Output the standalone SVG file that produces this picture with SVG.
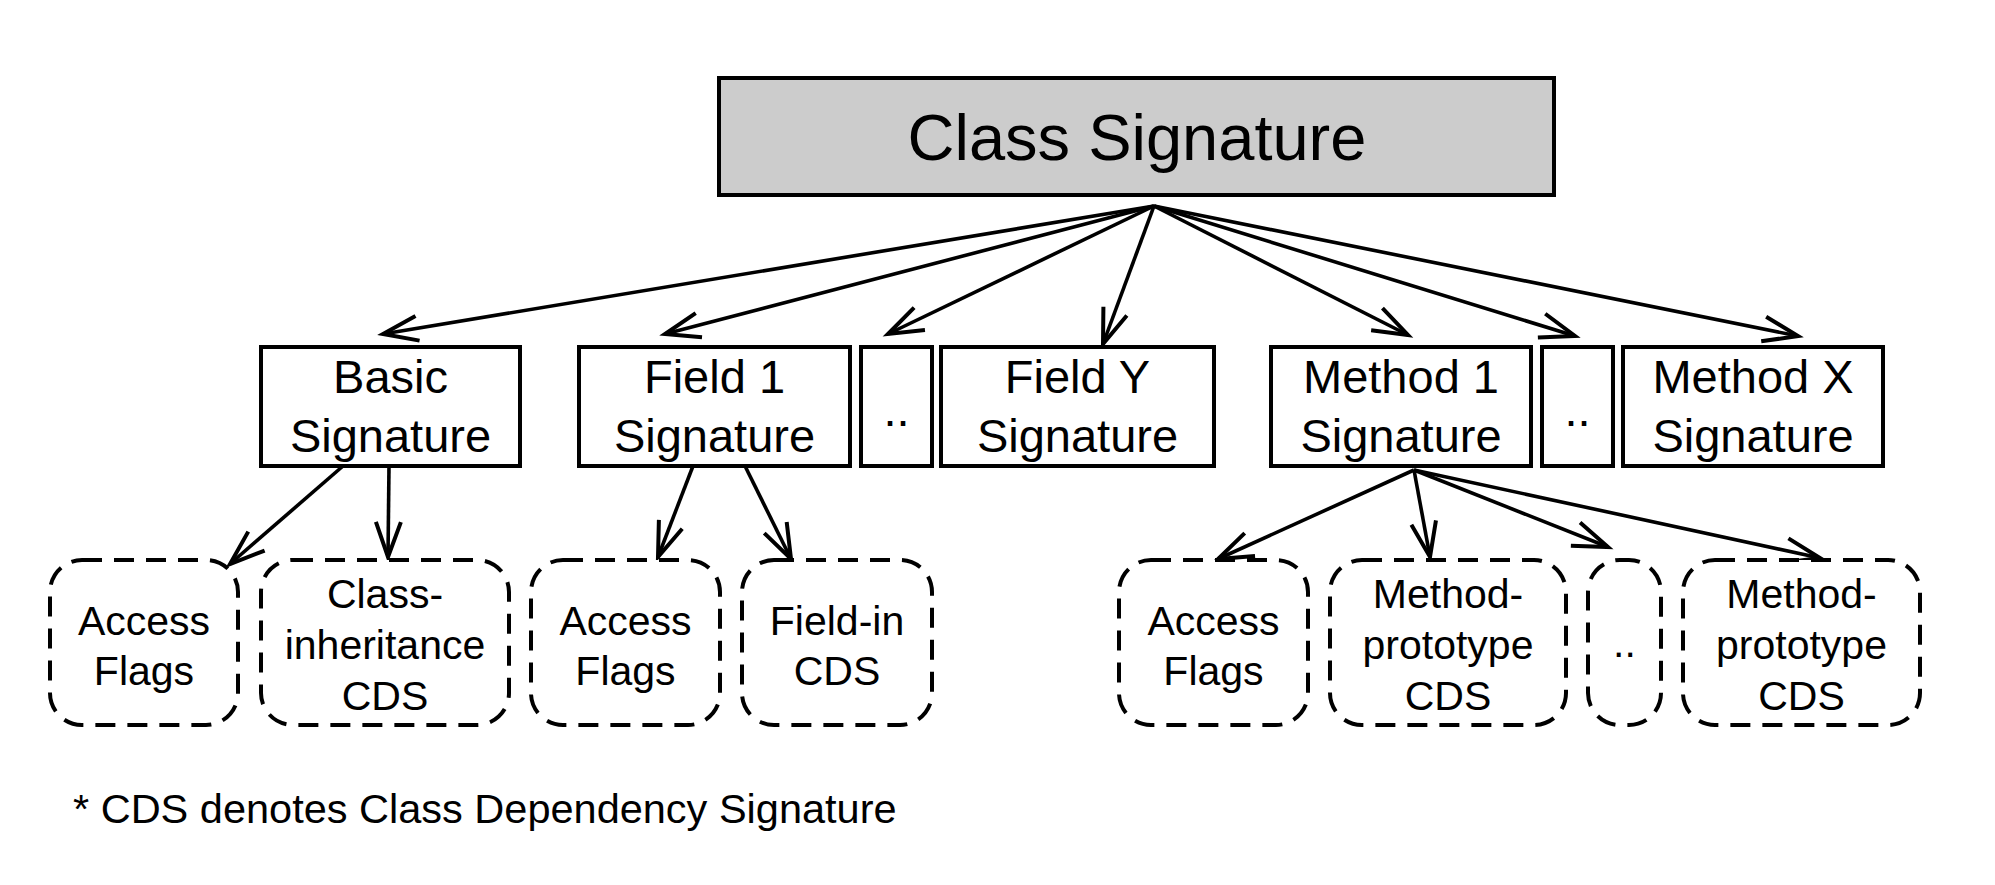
<svg xmlns="http://www.w3.org/2000/svg" width="1995" height="885" viewBox="0 0 1995 885">
<style>
  .box { fill: #ffffff; stroke: #000000; stroke-width: 4; }
  .root { fill: #cccccc; stroke: #000000; stroke-width: 4; }
  .dash { fill: #ffffff; stroke: #000000; stroke-width: 4; stroke-dasharray: 20 12; }
  .t { font-family: "Liberation Sans", Arial, Helvetica, sans-serif; fill: #000000; text-anchor: middle; }
  .big { font-size: 65px; }
  .mid { font-size: 47px; }
  .sm { font-size: 41px; }
  .edge { stroke: #000000; stroke-width: 3.6; fill: none; marker-end: url(#arr); }
</style>
<defs>
  <marker id="arr" markerUnits="userSpaceOnUse" markerWidth="60" markerHeight="60" refX="0" refY="0" orient="auto" overflow="visible">
    <path d="M -35 -12.5 L 0 0 L -35 12.5" fill="none" stroke="#000000" stroke-width="4" stroke-linejoin="miter"/>
  </marker>
</defs>
<rect width="1995" height="885" fill="#ffffff"/>

<g id="connectors">
  <line class="edge" x1="1154" y1="206" x2="383" y2="334"/>
  <line class="edge" x1="1154" y1="206" x2="665" y2="334"/>
  <line class="edge" x1="1154" y1="206" x2="888" y2="334"/>
  <line class="edge" x1="1154" y1="206" x2="1103" y2="344"/>
  <line class="edge" x1="1154" y1="206" x2="1408" y2="335"/>
  <line class="edge" x1="1154" y1="206" x2="1575" y2="336"/>
  <line class="edge" x1="1154" y1="206" x2="1798" y2="336"/>

  <line class="edge" x1="343" y1="466" x2="230" y2="564"/>
  <line class="edge" x1="389" y1="466" x2="388" y2="557"/>
  <line class="edge" x1="693" y1="466" x2="658" y2="557"/>
  <line class="edge" x1="745" y1="466" x2="791" y2="559"/>

  <line class="edge" x1="1414" y1="470" x2="1218" y2="559"/>
  <line class="edge" x1="1414" y1="470" x2="1430" y2="557"/>
  <line class="edge" x1="1414" y1="470" x2="1608" y2="547"/>
  <line class="edge" x1="1414" y1="470" x2="1820" y2="558"/>
</g>

<g id="class-signature">
  <rect class="root" x="719" y="78" width="835" height="117"/>
  <text class="t big" x="1137" y="160">Class Signature</text>
</g>

<g id="basic-signature">
  <rect class="box" x="261" y="347" width="259" height="119"/>
  <text class="t mid" x="390.5" y="393">Basic</text>
  <text class="t mid" x="390.5" y="452">Signature</text>
</g>
<g id="field1-signature">
  <rect class="box" x="579" y="347" width="271" height="119"/>
  <text class="t mid" x="714.5" y="393">Field 1</text>
  <text class="t mid" x="714.5" y="452">Signature</text>
</g>
<g id="field-dots">
  <rect class="box" x="861" y="347" width="71" height="119"/>
  <text class="t mid" x="896.5" y="426">..</text>
</g>
<g id="fieldY-signature">
  <rect class="box" x="941" y="347" width="273" height="119"/>
  <text class="t mid" x="1077.5" y="393">Field Y</text>
  <text class="t mid" x="1077.5" y="452">Signature</text>
</g>
<g id="method1-signature">
  <rect class="box" x="1271" y="347" width="260" height="119"/>
  <text class="t mid" x="1401" y="393">Method 1</text>
  <text class="t mid" x="1401" y="452">Signature</text>
</g>
<g id="method-dots">
  <rect class="box" x="1542" y="347" width="71" height="119"/>
  <text class="t mid" x="1577.5" y="426">..</text>
</g>
<g id="methodX-signature">
  <rect class="box" x="1623" y="347" width="260" height="119"/>
  <text class="t mid" x="1753" y="393">Method X</text>
  <text class="t mid" x="1753" y="452">Signature</text>
</g>

<g id="access-flags-1">
  <rect class="dash" x="50" y="560" width="188" height="165" rx="32" ry="32"/>
  <text class="t sm" x="144" y="635">Access</text>
  <text class="t sm" x="144" y="685">Flags</text>
</g>
<g id="class-inheritance-cds">
  <rect class="dash" x="261" y="560" width="248" height="165" rx="32" ry="32"/>
  <text class="t sm" x="385" y="608">Class-</text>
  <text class="t sm" x="385" y="659">inheritance</text>
  <text class="t sm" x="385" y="710">CDS</text>
</g>
<g id="access-flags-2">
  <rect class="dash" x="531" y="560" width="189" height="165" rx="32" ry="32"/>
  <text class="t sm" x="625.5" y="635">Access</text>
  <text class="t sm" x="625.5" y="685">Flags</text>
</g>
<g id="field-in-cds">
  <rect class="dash" x="742" y="560" width="190" height="165" rx="32" ry="32"/>
  <text class="t sm" x="837" y="635">Field-in</text>
  <text class="t sm" x="837" y="685">CDS</text>
</g>
<g id="access-flags-3">
  <rect class="dash" x="1119" y="560" width="189" height="165" rx="32" ry="32"/>
  <text class="t sm" x="1213.5" y="635">Access</text>
  <text class="t sm" x="1213.5" y="685">Flags</text>
</g>
<g id="method-prototype-cds-1">
  <rect class="dash" x="1330" y="560" width="236" height="165" rx="32" ry="32"/>
  <text class="t sm" x="1448" y="608">Method-</text>
  <text class="t sm" x="1448" y="659">prototype</text>
  <text class="t sm" x="1448" y="710">CDS</text>
</g>
<g id="cds-dots">
  <rect class="dash" x="1588" y="560" width="73" height="165" rx="32" ry="32"/>
  <text class="t sm" x="1624.5" y="657">..</text>
</g>
<g id="method-prototype-cds-2">
  <rect class="dash" x="1683" y="560" width="237" height="165" rx="32" ry="32"/>
  <text class="t sm" x="1801.5" y="608">Method-</text>
  <text class="t sm" x="1801.5" y="659">prototype</text>
  <text class="t sm" x="1801.5" y="710">CDS</text>
</g>

<text class="t sm" x="73" y="823" style="text-anchor:start; font-size:41.5px">* CDS denotes Class Dependency Signature</text>
</svg>
